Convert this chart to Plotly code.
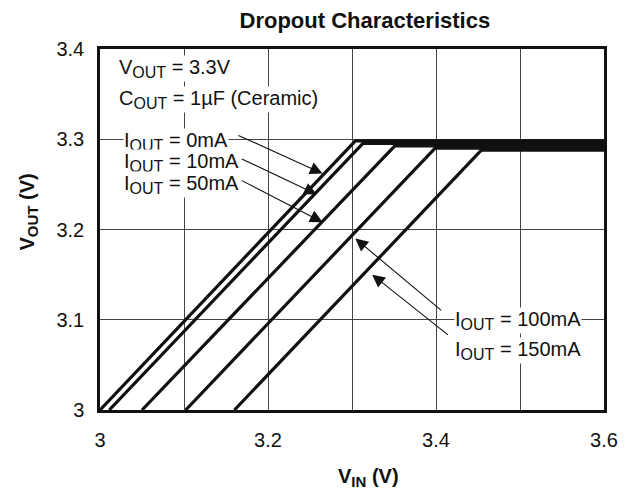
import plotly.graph_objects as go

# ---- data ----
iout_labels = ["0mA", "10mA", "50mA", "100mA", "150mA"]
vin_start = [3.0, 3.011, 3.05, 3.102, 3.16]      # V_IN where V_OUT = 3.0 V
vout_start = [3.0, 3.0, 3.0, 3.0, 3.0]
vin_knee = [3.304, 3.313, 3.351, 3.399, 3.454]   # dropout knee
vout_reg = [3.2983, 3.2955, 3.2927, 3.2902, 3.2879]  # regulated level
vin_end = [3.6, 3.6, 3.6, 3.6, 3.6]

x_ticks = [3.0, 3.2, 3.4, 3.6]
x_tick_text = ["3", "3.2", "3.4", "3.6"]
y_ticks = [3.0, 3.1, 3.2, 3.3, 3.4]
y_tick_text = ["3", "3.1", "3.2", "3.3", "3.4"]

# arrow heads (on curve) and tails (near labels), data units
arrow_head_x = [3.265, 3.258, 3.265, 3.304, 3.324]
arrow_head_y = [3.262, 3.239, 3.208, 3.190, 3.150]
arrow_tail_x = [3.163, 3.167, 3.167, 3.408, 3.416]
arrow_tail_y = [3.305, 3.279, 3.255, 3.109, 3.082]

label_x = [3.027, 3.027, 3.027, 3.421, 3.421]
label_y = [3.298, 3.274, 3.250, 3.099, 3.066]

FONT = "Liberation Sans, Arial, Helvetica, sans-serif"
INK = "#111111"


def sub(s, px=16):
    return "<sub><span style='font-size:%dpx'>%s</span></sub>" % (px, s)


fig = go.Figure()
for i, lab in enumerate(iout_labels):
    fig.add_trace(go.Scatter(
        x=[vin_start[i], vin_knee[i], vin_end[i]],
        y=[vout_start[i], vout_reg[i], vout_reg[i]],
        mode="lines", name=lab,
        line=dict(color=INK, width=3.2),
        hoverinfo="skip",
    ))

annotations = []
annotations.append(dict(x=3.022, y=3.378, xref="x", yref="y", xanchor="left", yanchor="middle",
                        text="V" + sub("OUT") + " = 3.3V", showarrow=False, bgcolor="white",
                        borderpad=0, font=dict(size=20, color=INK, family=FONT)))
annotations.append(dict(x=3.022, y=3.344, xref="x", yref="y", xanchor="left", yanchor="middle",
                        text="C" + sub("OUT") + " = 1µF (Ceramic)", showarrow=False, bgcolor="white",
                        borderpad=0, font=dict(size=20, color=INK, family=FONT)))
for i, lab in enumerate(iout_labels):
    annotations.append(dict(x=label_x[i], y=label_y[i], xref="x", yref="y",
                            xanchor="left", yanchor="middle",
                            text="I" + sub("OUT") + " = " + lab, showarrow=False,
                            bgcolor="white", borderpad=0,
                            font=dict(size=20, color=INK, family=FONT)))
    annotations.append(dict(x=arrow_head_x[i], y=arrow_head_y[i], xref="x", yref="y",
                            ax=arrow_tail_x[i], ay=arrow_tail_y[i], axref="x", ayref="y",
                            text="", showarrow=True, arrowhead=2, arrowsize=2.3,
                            arrowwidth=1.1, arrowcolor=INK))

# axis titles
annotations.append(dict(x=-0.142, y=0.548, xref="paper", yref="paper",
                        xanchor="center", yanchor="middle",
                        text="<b>V" + sub("OUT", 15) + " (V)</b>", textangle=-90, showarrow=False,
                        font=dict(size=20, color=INK, family=FONT)))
annotations.append(dict(x=0.532, y=-0.188, xref="paper", yref="paper",
                        xanchor="center", yanchor="middle",
                        text="<b>V" + sub("IN", 15) + " (V)</b>", showarrow=False,
                        font=dict(size=20, color=INK, family=FONT)))

fig.update_layout(
    width=610, height=481,
    margin=dict(l=92, r=14, t=41, b=79),
    paper_bgcolor="white", plot_bgcolor="white",
    showlegend=False,
    title=dict(text="<b>Dropout Characteristics</b>", x=0.585, xref="container",
               xanchor="center", y=0.99, yref="container", yanchor="top",
               pad=dict(t=0, b=0),
               font=dict(size=22, color=INK, family=FONT)),
    annotations=annotations,
    font=dict(family=FONT, color=INK),
)
fig.update_xaxes(range=[3.0, 3.6], tickvals=x_ticks, ticktext=x_tick_text,
                 showgrid=True, gridcolor="#444444", gridwidth=1,
                 showline=True, linecolor=INK, linewidth=2.5, mirror=True,
                 ticks="", ticklabelstandoff=10, zeroline=False, automargin=False,
                 tickfont=dict(size=20, color=INK, family=FONT),
                 minor=dict(tickvals=[3.1, 3.3, 3.5], showgrid=True,
                            gridcolor="#444444", gridwidth=1, ticks=""))
fig.update_yaxes(range=[3.0, 3.4], tickvals=y_ticks, ticktext=y_tick_text,
                 showgrid=True, gridcolor="#444444", gridwidth=1,
                 showline=True, linecolor=INK, linewidth=2.5, mirror=True,
                 ticks="", ticklabelstandoff=9, zeroline=False, automargin=False,
                 tickfont=dict(size=20, color=INK, family=FONT))

fig.write_html("out.html")
